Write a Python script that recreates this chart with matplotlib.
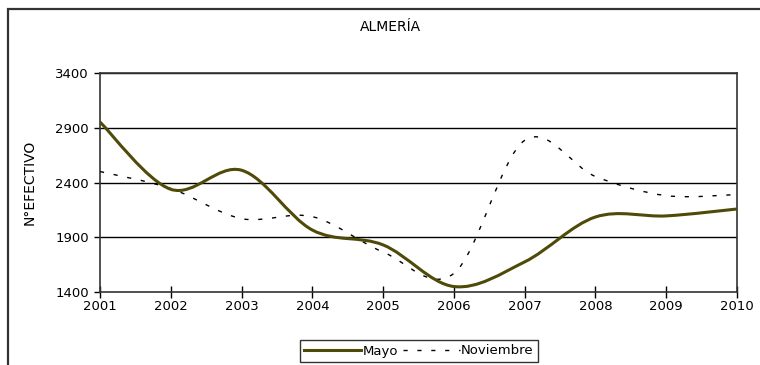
import matplotlib
matplotlib.use("Agg")
import matplotlib.pyplot as plt
from matplotlib.path import Path
from matplotlib.patches import PathPatch, Rectangle
from matplotlib.lines import Line2D

plt.rcParams['font.family'] = ['DejaVu Sans']

years = [2001, 2002, 2003, 2004, 2005, 2006, 2007, 2008, 2009, 2010]
mayo = [2952, 2338, 2512, 1966, 1830, 1450, 1675, 2085, 2095, 2158]
noviembre = [2500, 2345, 2070, 2088, 1765, 1570, 2785, 2455, 2280, 2290]
yticks = [1400, 1900, 2400, 2900, 3400]
title = "ALMERÍA"
ylabel = "N°EFECTIVO"

mayo_color = "#4f4a08"


def smooth_path(xs, ys):
    # Excel-style smoothed line: cubic Bezier segments through the data points
    n = len(xs)
    verts = [(xs[0], ys[0])]
    codes = [Path.MOVETO]
    for i in range(n - 1):
        x0, y0 = (xs[i - 1], ys[i - 1]) if i > 0 else (xs[i], ys[i])
        x1, y1 = xs[i], ys[i]
        x2, y2 = xs[i + 1], ys[i + 1]
        x3, y3 = (xs[i + 2], ys[i + 2]) if i + 2 < n else (x2, y2)
        c1 = (x1 + (x2 - x0) / 6.0, y1 + (y2 - y0) / 6.0)
        c2 = (x2 - (x3 - x1) / 6.0, y2 - (y3 - y1) / 6.0)
        verts += [c1, c2, (x2, y2)]
        codes += [Path.CURVE4] * 3
    return Path(verts, codes)


fig = plt.figure(figsize=(7.6, 3.65), dpi=100)
ax = fig.add_axes([100 / 760, 1 - 292 / 365, 637 / 760, 219 / 365])

ax.add_patch(PathPatch(smooth_path(years, noviembre), fill=False, edgecolor="black",
                       lw=1.0, linestyle=(0, (3, 7)), zorder=3))
ax.add_patch(PathPatch(smooth_path(years, mayo), fill=False, edgecolor=mayo_color,
                       lw=2.2, zorder=4))

ax.set_xlim(years[0], years[-1])
ax.set_ylim(yticks[0], yticks[-1])
ax.set_xticks(years)
ax.set_yticks(yticks)
ax.tick_params(axis='x', direction='inout', length=8, width=1, labelsize=9.5, pad=2)
ax.tick_params(axis='y', direction='out', length=4, width=1, labelsize=9.5, pad=4)
for t in yticks[1:]:
    ax.axhline(t, color="black", lw=1.0, zorder=1)
for s in ax.spines.values():
    s.set_color("#333333")
    s.set_linewidth(1.2)

fig.text(30 / 760, 1 - 182 / 365, ylabel, rotation=90, ha='center', va='center', fontsize=10)
fig.text(390 / 760, 1 - 27 / 365, title, ha='center', va='center', fontsize=10)

# outer chart frame
fig.patches.append(Rectangle((8 / 760, -0.1), 1.2, 1 - 9 / 365 + 0.1, transform=fig.transFigure,
                             fill=False, edgecolor="#333333", lw=1.6))

handles = [Line2D([], [], color=mayo_color, lw=2.2),
           Line2D([], [], color="black", lw=1.0, linestyle=(0, (3, 7)))]
leg = fig.legend(handles, ["Mayo", "Noviembre"], loc='center', ncol=2,
                 bbox_to_anchor=(419 / 760, 1 - 351 / 365), fontsize=9.5,
                 frameon=True, fancybox=False, edgecolor="black", handlelength=4.3,
                 handletextpad=0.1, columnspacing=0.4, borderpad=0.35, borderaxespad=0)
leg.get_frame().set_linewidth(1.0)

fig.savefig("out.png", dpi=100)
